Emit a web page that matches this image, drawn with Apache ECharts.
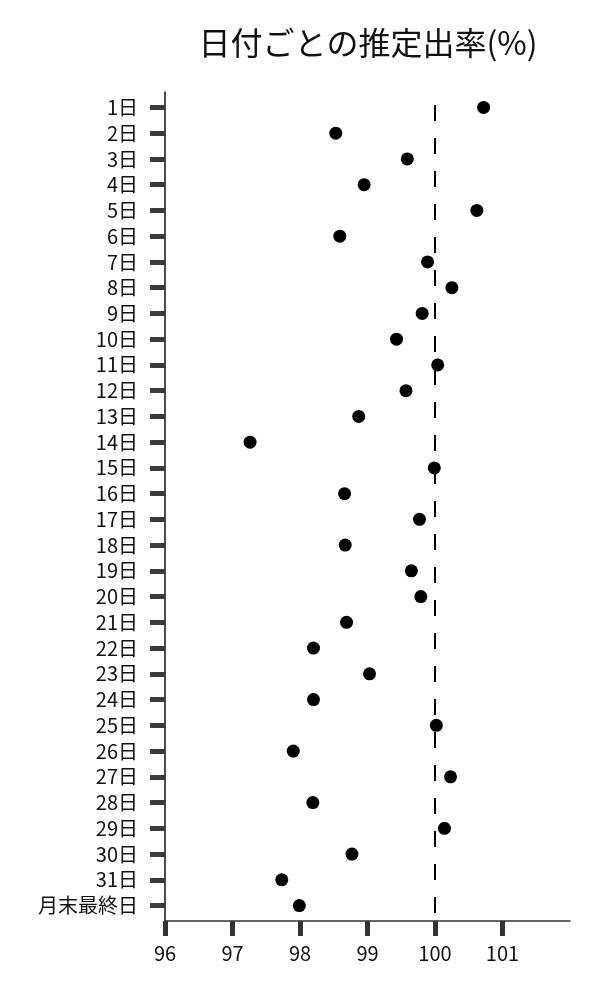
<!DOCTYPE html>
<html>
<head>
<meta charset="utf-8">
<script src="https://cdn.jsdelivr.net/npm/echarts@6/dist/echarts.min.js"></script>
<style>
  html, body { margin: 0; padding: 0; background: #fff; }
  #chart { width: 600px; height: 1000px; }
</style>
</head>
<body>
<div id="chart"></div>
<script>
const titleText = '日付ごとの推定出率(%)';
const categories = ['1日','2日','3日','4日','5日','6日','7日','8日','9日','10日',
  '11日','12日','13日','14日','15日','16日','17日','18日','19日','20日',
  '21日','22日','23日','24日','25日','26日','27日','28日','29日','30日','31日','月末最終日'];
const rates = [100.72, 98.53, 99.59, 98.95, 100.62, 98.59, 99.89, 100.25, 99.81, 99.43,
  100.04, 99.57, 98.87, 97.26, 99.99, 98.66, 99.77, 98.67, 99.65, 99.79,
  98.69, 98.20, 99.03, 98.20, 100.02, 97.90, 100.23, 98.19, 100.14, 98.77, 97.73, 97.99];
const xTicks = [96, 97, 98, 99, 100, 101];
const referenceRate = 100;

const FONT = '"Noto Sans CJK JP", "Noto Sans", sans-serif';
const chart = echarts.init(document.getElementById('chart'), null, { renderer: 'canvas' });
const catIndex = categories.map((_, i) => i);

chart.setOption({
  backgroundColor: '#ffffff',
  animation: false,
  title: {
    text: titleText,
    left: 363,
    textAlign: 'center',
    top: 22,
    textStyle: { fontFamily: FONT, fontSize: 32, fontWeight: 'normal', color: '#111' }
  },
  grid: { left: 165, right: 30, top: 92, bottom: 79, containLabel: false },
  xAxis: {
    type: 'value',
    min: 96,
    max: 102,
    interval: 1,
    splitLine: { show: false },
    axisLine: { show: true, onZero: false, lineStyle: { color: '#333', width: 1.5 } },
    axisTick: { show: true, customValues: xTicks, length: 15, lineStyle: { color: '#333', width: 5 } },
    axisLabel: { customValues: xTicks, margin: 22, fontFamily: FONT, fontSize: 20, color: '#111' }
  },
  yAxis: {
    type: 'value',
    inverse: true,
    min: -0.6,
    max: 31.6,
    splitLine: { show: false },
    axisLine: { show: true, onZero: false, lineStyle: { color: '#111', width: 1.5 } },
    axisTick: { show: true, customValues: catIndex, length: 15, lineStyle: { color: '#3a3a3a', width: 5 } },
    axisLabel: {
      customValues: catIndex,
      margin: 27,
      fontFamily: FONT, fontSize: 20, color: '#111',
      formatter: v => categories[Math.round(v)]
    }
  },
  series: [{
    type: 'scatter',
    symbol: 'circle',
    symbolSize: 13,
    itemStyle: { color: '#000', opacity: 1 },
    data: rates.map((v, i) => [v, i]),
    markLine: {
      silent: true,
      symbol: ['none', 'none'],
      label: { show: false },
      lineStyle: { color: '#000', width: 2, type: [16, 17], dashOffset: 20, opacity: 1 },
      data: [[{ coord: [referenceRate, -0.6] }, { coord: [referenceRate, 31.6] }]]
    }
  }]
});
</script>
</body>
</html>
